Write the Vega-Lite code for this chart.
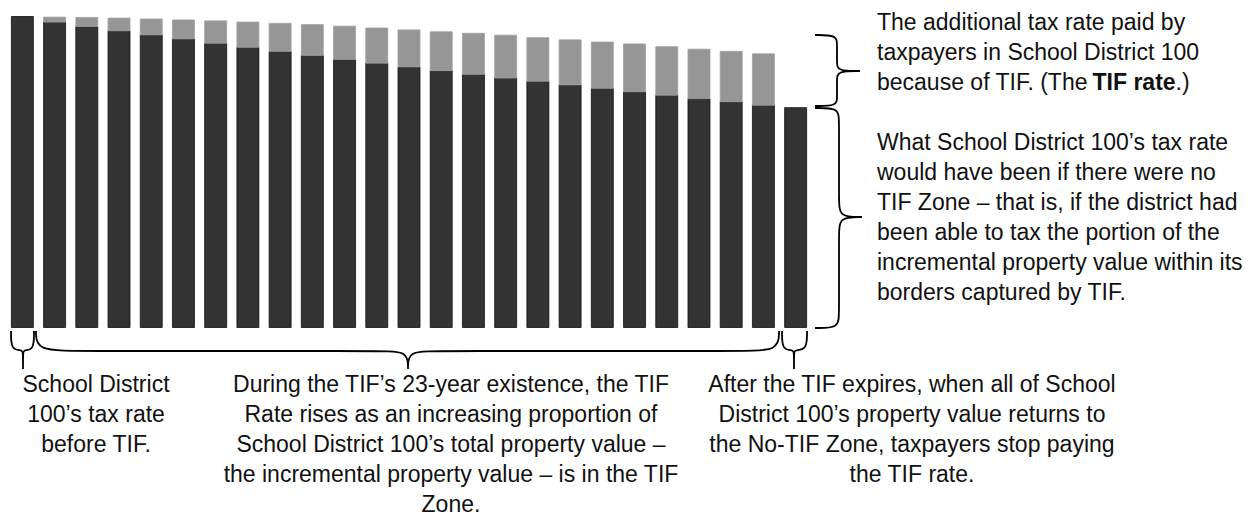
{
  "$schema": "https://vega.github.io/schema/vega-lite/v6.json",
  "width": 1251,
  "height": 518,
  "autosize": {"type": "none"},
  "padding": 0,
  "background": "#ffffff",
  "config": {"view": {"stroke": null}},
  "datasets": {
    "bars": [
      {"year": 1, "component": "No-TIF rate", "rate": 100.0},
      {"year": 2, "component": "No-TIF rate", "rate": 98.2}, {"year": 2, "component": "TIF rate", "rate": 1.6},
      {"year": 3, "component": "No-TIF rate", "rate": 96.8}, {"year": 3, "component": "TIF rate", "rate": 2.9},
      {"year": 4, "component": "No-TIF rate", "rate": 95.4}, {"year": 4, "component": "TIF rate", "rate": 4.1},
      {"year": 5, "component": "No-TIF rate", "rate": 94.1}, {"year": 5, "component": "TIF rate", "rate": 5.1},
      {"year": 6, "component": "No-TIF rate", "rate": 92.8}, {"year": 6, "component": "TIF rate", "rate": 6.1},
      {"year": 7, "component": "No-TIF rate", "rate": 91.4}, {"year": 7, "component": "TIF rate", "rate": 7.2},
      {"year": 8, "component": "No-TIF rate", "rate": 90.1}, {"year": 8, "component": "TIF rate", "rate": 8.1},
      {"year": 9, "component": "No-TIF rate", "rate": 88.8}, {"year": 9, "component": "TIF rate", "rate": 9.0},
      {"year": 10, "component": "No-TIF rate", "rate": 87.5}, {"year": 10, "component": "TIF rate", "rate": 9.9},
      {"year": 11, "component": "No-TIF rate", "rate": 86.2}, {"year": 11, "component": "TIF rate", "rate": 10.7},
      {"year": 12, "component": "No-TIF rate", "rate": 85.0}, {"year": 12, "component": "TIF rate", "rate": 11.3},
      {"year": 13, "component": "No-TIF rate", "rate": 83.8}, {"year": 13, "component": "TIF rate", "rate": 11.9},
      {"year": 14, "component": "No-TIF rate", "rate": 82.6}, {"year": 14, "component": "TIF rate", "rate": 12.5},
      {"year": 15, "component": "No-TIF rate", "rate": 81.4}, {"year": 15, "component": "TIF rate", "rate": 13.2},
      {"year": 16, "component": "No-TIF rate", "rate": 80.2}, {"year": 16, "component": "TIF rate", "rate": 13.8},
      {"year": 17, "component": "No-TIF rate", "rate": 79.2}, {"year": 17, "component": "TIF rate", "rate": 14.0},
      {"year": 18, "component": "No-TIF rate", "rate": 78.0}, {"year": 18, "component": "TIF rate", "rate": 14.5},
      {"year": 19, "component": "No-TIF rate", "rate": 76.9}, {"year": 19, "component": "TIF rate", "rate": 14.9},
      {"year": 20, "component": "No-TIF rate", "rate": 75.8}, {"year": 20, "component": "TIF rate", "rate": 15.4},
      {"year": 21, "component": "No-TIF rate", "rate": 74.7}, {"year": 21, "component": "TIF rate", "rate": 15.6},
      {"year": 22, "component": "No-TIF rate", "rate": 73.6}, {"year": 22, "component": "TIF rate", "rate": 15.9},
      {"year": 23, "component": "No-TIF rate", "rate": 72.6}, {"year": 23, "component": "TIF rate", "rate": 16.2},
      {"year": 24, "component": "No-TIF rate", "rate": 71.5}, {"year": 24, "component": "TIF rate", "rate": 16.5},
      {"year": 25, "component": "No-TIF rate", "rate": 70.7}
    ],
    "braces": [
      {"brace": "R1", "o": 1, "x": 25.601, "y": 94.05},
      {"brace": "R1", "o": 2, "x": 26.284, "y": 94.05},
      {"brace": "R1", "o": 3, "x": 26.284, "y": 90.84},
      {"brace": "R1", "o": 4, "x": 26.284, "y": 85.37},
      {"brace": "R1", "o": 5, "x": 26.284, "y": 82.48},
      {"brace": "R1", "o": 6, "x": 26.998, "y": 82.48},
      {"brace": "R1", "o": 7, "x": 26.998, "y": 82.48},
      {"brace": "R1", "o": 8, "x": 26.998, "y": 82.48},
      {"brace": "R1", "o": 9, "x": 26.284, "y": 82.48},
      {"brace": "R1", "o": 10, "x": 26.284, "y": 79.58},
      {"brace": "R1", "o": 11, "x": 26.284, "y": 74.12},
      {"brace": "R1", "o": 12, "x": 26.284, "y": 71.22},
      {"brace": "R1", "o": 13, "x": 25.601, "y": 71.22},
      {"brace": "R2", "o": 1, "x": 25.601, "y": 70.58},
      {"brace": "R2", "o": 2, "x": 26.346, "y": 70.58},
      {"brace": "R2", "o": 3, "x": 26.346, "y": 66.72},
      {"brace": "R2", "o": 4, "x": 26.346, "y": 41.0},
      {"brace": "R2", "o": 5, "x": 26.346, "y": 35.53},
      {"brace": "R2", "o": 6, "x": 27.059, "y": 35.53},
      {"brace": "R2", "o": 7, "x": 27.059, "y": 35.53},
      {"brace": "R2", "o": 8, "x": 27.059, "y": 35.53},
      {"brace": "R2", "o": 9, "x": 26.346, "y": 35.53},
      {"brace": "R2", "o": 10, "x": 26.346, "y": 30.06},
      {"brace": "R2", "o": 11, "x": 26.346, "y": 4.34},
      {"brace": "R2", "o": 12, "x": 26.346, "y": -0.16},
      {"brace": "R2", "o": 13, "x": 25.601, "y": -0.16},
      {"brace": "B1", "o": 1, "x": 0.647, "y": -1.125},
      {"brace": "B1", "o": 2, "x": 0.647, "y": -7.235},
      {"brace": "B1", "o": 3, "x": 0.989, "y": -7.235},
      {"brace": "B1", "o": 4, "x": 1.02, "y": -7.878},
      {"brace": "B1", "o": 5, "x": 1.02, "y": -13.344},
      {"brace": "B1", "o": 6, "x": 1.02, "y": -13.344},
      {"brace": "B1", "o": 7, "x": 1.02, "y": -13.344},
      {"brace": "B1", "o": 8, "x": 1.02, "y": -7.878},
      {"brace": "B1", "o": 9, "x": 1.051, "y": -7.235},
      {"brace": "B1", "o": 10, "x": 1.361, "y": -7.235},
      {"brace": "B1", "o": 11, "x": 1.361, "y": -1.125},
      {"brace": "B2", "o": 1, "x": 1.423, "y": -1.125},
      {"brace": "B2", "o": 2, "x": 1.423, "y": -7.556},
      {"brace": "B2", "o": 3, "x": 2.789, "y": -7.556},
      {"brace": "B2", "o": 4, "x": 12.1, "y": -7.556},
      {"brace": "B2", "o": 5, "x": 12.969, "y": -7.556},
      {"brace": "B2", "o": 6, "x": 12.969, "y": -13.344},
      {"brace": "B2", "o": 7, "x": 12.969, "y": -13.344},
      {"brace": "B2", "o": 8, "x": 12.969, "y": -13.344},
      {"brace": "B2", "o": 9, "x": 12.969, "y": -7.556},
      {"brace": "B2", "o": 10, "x": 13.838, "y": -7.556},
      {"brace": "B2", "o": 11, "x": 23.273, "y": -7.556},
      {"brace": "B2", "o": 12, "x": 24.484, "y": -7.556},
      {"brace": "B2", "o": 13, "x": 24.484, "y": -1.125},
      {"brace": "B3", "o": 1, "x": 24.577, "y": -1.125},
      {"brace": "B3", "o": 2, "x": 24.577, "y": -7.235},
      {"brace": "B3", "o": 3, "x": 24.918, "y": -7.235},
      {"brace": "B3", "o": 4, "x": 24.949, "y": -7.878},
      {"brace": "B3", "o": 5, "x": 24.949, "y": -13.344},
      {"brace": "B3", "o": 6, "x": 24.949, "y": -13.344},
      {"brace": "B3", "o": 7, "x": 24.949, "y": -13.344},
      {"brace": "B3", "o": 8, "x": 24.949, "y": -7.878},
      {"brace": "B3", "o": 9, "x": 24.98, "y": -7.235},
      {"brace": "B3", "o": 10, "x": 25.353, "y": -7.235},
      {"brace": "B3", "o": 11, "x": 25.353, "y": -1.125}
    ],
    "leftNotes": [
      {"x": 27.525, "y": 101.45, "label": "The additional tax rate paid by\ntaxpayers in School District 100"},
      {"x": 27.525, "y": 82.15, "label": "because of TIF. (The"},
      {"x": 36.79, "y": 82.15, "label": ".)"},
      {"x": 27.525, "y": 62.86, "label": "What School District 100’s tax rate\nwould have been if there were no\nTIF Zone – that is, if the district had\nbeen able to tax the portion of the\nincremental property value within its\nborders captured by TIF."}
    ],
    "boldNotes": [
      {"x": 34.214, "y": 82.15, "label": "TIF rate"}
    ],
    "centerNotes": [
      {"x": 3.286, "y": -14.95, "label": "School District\n100’s tax rate\nbefore TIF."},
      {"x": 14.303, "y": -14.95, "label": "During the TIF’s 23-year existence, the TIF\nRate rises as an increasing proportion of\nSchool District 100’s total property value –\nthe incremental property value – is in the TIF\nZone."},
      {"x": 28.611, "y": -14.95, "label": "After the TIF expires, when all of School\nDistrict 100’s property value returns to\nthe No-TIF Zone, taxpayers stop paying\nthe TIF rate."}
    ]
  },
  "layer": [
    {
      "data": {"name": "bars"},
      "mark": {"type": "bar", "size": 22, "strokeWidth": 0.8},
      "encoding": {
        "x": {"field": "year", "type": "quantitative", "scale": {"domain": [0.306, 39.133], "nice": false, "zero": false, "padding": 0}, "axis": null},
        "y": {"field": "rate", "type": "quantitative", "stack": "zero", "scale": {"domain": [-61.25, 105.31], "nice": false, "zero": false}, "axis": null},
        "color": {"field": "component", "type": "nominal", "scale": {"domain": ["No-TIF rate", "TIF rate"], "range": ["#333333", "#969696"]}, "legend": null},
        "stroke": {"field": "component", "type": "nominal", "scale": {"domain": ["No-TIF rate", "TIF rate"], "range": ["#111111", "#a0a0a0"]}, "legend": null},
        "order": {"field": "component", "sort": "ascending"}
      }
    },
    {
      "data": {"name": "braces"},
      "mark": {"type": "line", "interpolate": "basis", "strokeWidth": 1.8, "color": "#000000"},
      "encoding": {
        "x": {"field": "x", "type": "quantitative", "scale": {"domain": [0.306, 39.133], "nice": false, "zero": false, "padding": 0}, "axis": null},
        "y": {"field": "y", "type": "quantitative", "scale": {"domain": [-61.25, 105.31], "nice": false, "zero": false}, "axis": null},
        "detail": {"field": "brace", "type": "nominal"},
        "order": {"field": "o", "type": "quantitative"}
      }
    },
    {
      "data": {"name": "leftNotes"},
      "mark": {"type": "text", "align": "left", "baseline": "top", "lineBreak": "\n", "lineHeight": 30, "fontSize": 23, "font": "Liberation Sans", "color": "#111111"},
      "encoding": {
        "x": {"field": "x", "type": "quantitative", "scale": {"domain": [0.306, 39.133], "nice": false, "zero": false, "padding": 0}, "axis": null},
        "y": {"field": "y", "type": "quantitative", "scale": {"domain": [-61.25, 105.31], "nice": false, "zero": false}, "axis": null},
        "text": {"field": "label", "type": "nominal"}
      }
    },
    {
      "data": {"name": "boldNotes"},
      "mark": {"type": "text", "align": "left", "baseline": "top", "fontSize": 23, "fontWeight": "bold", "font": "Liberation Sans", "color": "#111111"},
      "encoding": {
        "x": {"field": "x", "type": "quantitative", "scale": {"domain": [0.306, 39.133], "nice": false, "zero": false, "padding": 0}, "axis": null},
        "y": {"field": "y", "type": "quantitative", "scale": {"domain": [-61.25, 105.31], "nice": false, "zero": false}, "axis": null},
        "text": {"field": "label", "type": "nominal"}
      }
    },
    {
      "data": {"name": "centerNotes"},
      "mark": {"type": "text", "align": "center", "baseline": "top", "lineBreak": "\n", "lineHeight": 30, "fontSize": 23, "font": "Liberation Sans", "color": "#111111"},
      "encoding": {
        "x": {"field": "x", "type": "quantitative", "scale": {"domain": [0.306, 39.133], "nice": false, "zero": false, "padding": 0}, "axis": null},
        "y": {"field": "y", "type": "quantitative", "scale": {"domain": [-61.25, 105.31], "nice": false, "zero": false}, "axis": null},
        "text": {"field": "label", "type": "nominal"}
      }
    }
  ]
}
